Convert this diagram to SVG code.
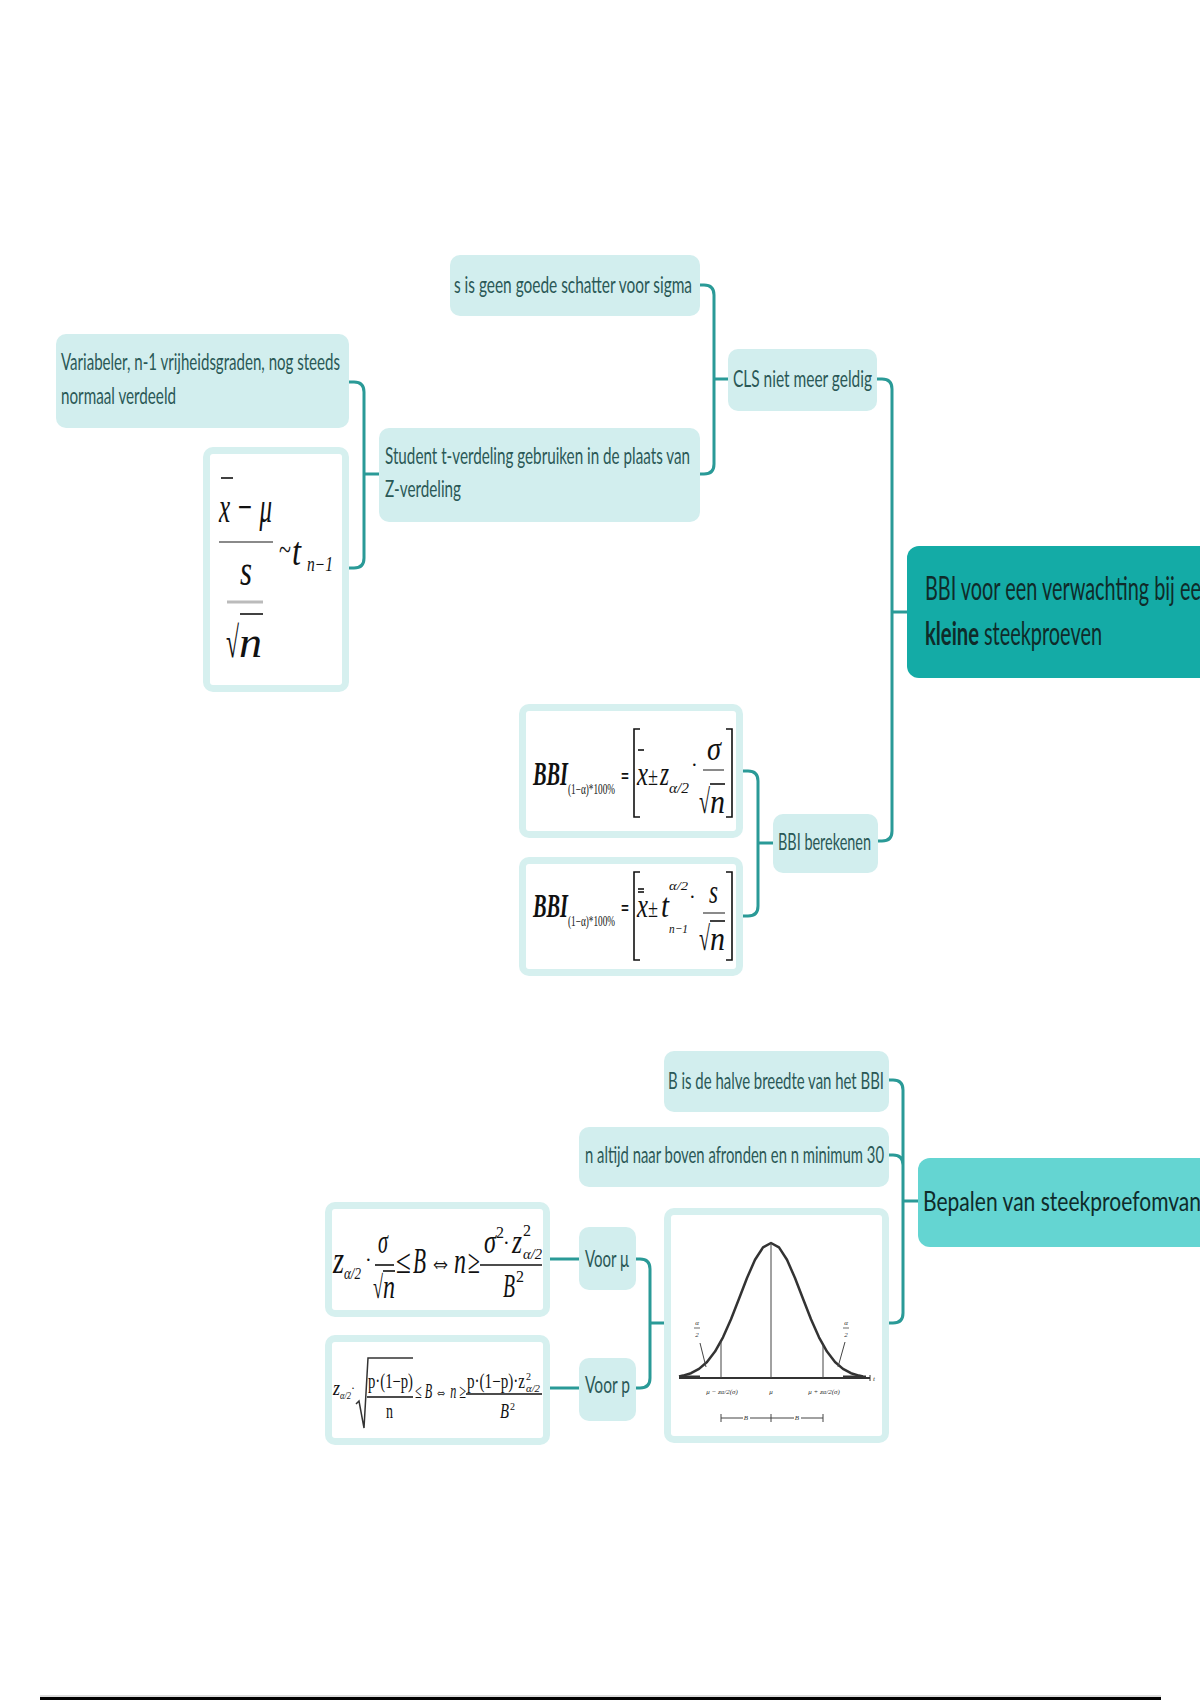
<svg xmlns="http://www.w3.org/2000/svg" width="1200" height="1700" viewBox="0 0 1200 1700">
<defs>
<style>
.n{fill:#d2eeee}
.fo{fill:#d6f0ef}
.fi{fill:#ffffff}
.t{font-family:Lato,"Liberation Sans",sans-serif;font-size:24px;fill:#2a5856}
.h{font-family:Lato,"Liberation Sans",sans-serif;fill:#0f2b2a}
.m{font-family:"Liberation Serif",serif;font-style:italic;fill:#111}
.u{font-family:"Liberation Serif",serif;fill:#111}
.c{fill:none;stroke:#2a9a97;stroke-width:3;stroke-linecap:round;stroke-linejoin:round}
.k{stroke:#111;stroke-width:1.6;fill:none}
.g{stroke:#8a8a8a;stroke-width:2}
.tiny{font-family:"Liberation Serif",serif;font-style:italic;font-size:7px;fill:#333}
</style>
</defs>
<rect width="1200" height="1700" fill="#ffffff"/>

<g id="connectors">
<path class="c" d="M876,379 H882 Q892,379 892,389 V831 Q892,841 882,841 H878 M892,612 H907"/>
<path class="c" d="M700,285 H704 Q714,285 714,295 V464 Q714,474 704,474 H700 M714,379 H728"/>
<path class="c" d="M349,382 H354 Q364,382 364,392 V558 Q364,568 354,568 H349 M364,474 H379"/>
<path class="c" d="M743,771 H748 Q758,771 758,781 V906 Q758,916 748,916 H743 M758,843 H773"/>
<path class="c" d="M889,1080 H893 Q903,1080 903,1090 V1313 Q903,1323 893,1323 H889 M889,1155 H893 Q903,1155 903,1165 M903,1201 H918"/>
<path class="c" d="M636,1259 H640 Q650,1259 650,1269 V1378 Q650,1388 640,1388 H636 M650,1323 H664"/>
<path class="c" d="M579,1259 H550 M579,1388 H550"/>
</g>

<g id="main-bbi">
<rect x="907" y="546" width="320" height="132" rx="12" fill="#14aba6"/>
<text class="h" x="925" y="600" font-size="32" textLength="287" lengthAdjust="spacingAndGlyphs">BBI voor een verwachting bij een</text>
<text class="h" x="925" y="645" font-size="32" font-weight="bold" textLength="54" lengthAdjust="spacingAndGlyphs">kleine</text>
<text class="h" x="984" y="645" font-size="32" textLength="118" lengthAdjust="spacingAndGlyphs">steekproeven</text>
</g>

<g id="cls">
<rect class="n" x="728" y="349" width="149" height="62" rx="10"/>
<text class="t" x="733" y="387" textLength="139" lengthAdjust="spacingAndGlyphs">CLS niet meer geldig</text>
</g>

<g id="s-sigma">
<rect class="n" x="450" y="255" width="250" height="61" rx="10"/>
<text class="t" x="454" y="293" textLength="238" lengthAdjust="spacingAndGlyphs">s is geen goede schatter voor sigma</text>
</g>

<g id="student">
<rect class="n" x="379" y="428" width="321" height="94" rx="10"/>
<text class="t" x="385" y="464" textLength="305" lengthAdjust="spacingAndGlyphs">Student t-verdeling gebruiken in de plaats van</text>
<text class="t" x="385" y="497" textLength="76" lengthAdjust="spacingAndGlyphs">Z-verdeling</text>
</g>

<g id="variabeler">
<rect class="n" x="56" y="334" width="293" height="94" rx="10"/>
<text class="t" x="61" y="370" textLength="279" lengthAdjust="spacingAndGlyphs">Variabeler, n-1 vrijheidsgraden, nog steeds</text>
<text class="t" x="61" y="404" textLength="115" lengthAdjust="spacingAndGlyphs">normaal verdeeld</text>
</g>

<g id="formula-t">
<rect class="fo" x="203" y="447" width="146" height="245" rx="10"/>
<rect class="fi" x="210" y="454" width="132" height="231" rx="3"/>
<line class="k" x1="221" y1="478" x2="233" y2="478"/>
<text class="m" x="219" y="522" font-size="44" textLength="53" lengthAdjust="spacingAndGlyphs">x − μ</text>
<line class="g" x1="219" y1="542" x2="273" y2="542"/>
<text class="m" x="240" y="585" font-size="44" textLength="12" lengthAdjust="spacingAndGlyphs">s</text>
<line x1="227" y1="602" x2="263" y2="602" stroke="#bbbbbb" stroke-width="3"/>
<text class="u" x="226" y="657" font-size="44" textLength="13" lengthAdjust="spacingAndGlyphs">√</text>
<line class="k" x1="240" y1="614" x2="263" y2="614"/>
<text class="m" x="239" y="657" font-size="44" textLength="23" lengthAdjust="spacingAndGlyphs">n</text>
<text class="u" x="279" y="560" font-size="30" textLength="12" lengthAdjust="spacingAndGlyphs">~</text>
<text class="m" x="292" y="565" font-size="40" textLength="9" lengthAdjust="spacingAndGlyphs">t</text>
<text class="m" x="307" y="571" font-size="20" textLength="26" lengthAdjust="spacingAndGlyphs">n−1</text>
</g>

<g id="bbi-berekenen">
<rect class="n" x="773" y="814" width="105" height="59" rx="10"/>
<text class="t" x="778" y="850" textLength="93" lengthAdjust="spacingAndGlyphs">BBI berekenen</text>
</g>

<g id="formula-z">
<rect class="fo" x="519" y="704" width="224" height="134" rx="10"/>
<rect class="fi" x="526" y="711" width="210" height="120" rx="3"/>
<text class="m" x="533" y="785" font-size="34" font-weight="bold" textLength="35" lengthAdjust="spacingAndGlyphs">BBI</text>
<text class="u" x="568" y="794" font-size="14" textLength="47" lengthAdjust="spacingAndGlyphs">(1−α)*100%</text>
<text class="u" x="621" y="784" font-size="24" font-weight="bold" textLength="8" lengthAdjust="spacingAndGlyphs">=</text>
<path class="k" d="M640,729 H634 V817 H640"/>
<line class="k" x1="638" y1="750" x2="644" y2="750"/>
<text class="m" x="637" y="785" font-size="34" textLength="11" lengthAdjust="spacingAndGlyphs">x</text>
<text class="u" x="648" y="785" font-size="26" textLength="10" lengthAdjust="spacingAndGlyphs">±</text>
<text class="m" x="660" y="785" font-size="34" textLength="9" lengthAdjust="spacingAndGlyphs">z</text>
<text class="m" x="669" y="793" font-size="15" textLength="20" lengthAdjust="spacingAndGlyphs">α/2</text>
<text class="u" x="691" y="772" font-size="20">·</text>
<text class="m" x="707" y="760" font-size="34" textLength="14" lengthAdjust="spacingAndGlyphs">σ</text>
<line class="g" x1="703" y1="770" x2="724" y2="770"/>
<text class="u" x="699" y="813" font-size="34" textLength="11" lengthAdjust="spacingAndGlyphs">√</text>
<line class="k" x1="710" y1="784" x2="725" y2="784"/>
<text class="m" x="710" y="813" font-size="34" textLength="15" lengthAdjust="spacingAndGlyphs">n</text>
<path class="k" d="M726,729 H732 V817 H726"/>
</g>

<g id="formula-tn">
<rect class="fo" x="519" y="857" width="224" height="119" rx="10"/>
<rect class="fi" x="526" y="864" width="210" height="105" rx="3"/>
<text class="m" x="533" y="917" font-size="34" font-weight="bold" textLength="35" lengthAdjust="spacingAndGlyphs">BBI</text>
<text class="u" x="568" y="926" font-size="14" textLength="47" lengthAdjust="spacingAndGlyphs">(1−α)*100%</text>
<text class="u" x="621" y="916" font-size="24" font-weight="bold" textLength="8" lengthAdjust="spacingAndGlyphs">=</text>
<path class="k" d="M640,872 H634 V960 H640"/>
<line class="k" x1="638" y1="889" x2="644" y2="889"/>
<line class="k" x1="638" y1="892" x2="644" y2="892"/>
<text class="m" x="637" y="917" font-size="34" textLength="11" lengthAdjust="spacingAndGlyphs">x</text>
<text class="u" x="648" y="917" font-size="26" textLength="10" lengthAdjust="spacingAndGlyphs">±</text>
<text class="m" x="661" y="917" font-size="34" textLength="8" lengthAdjust="spacingAndGlyphs">t</text>
<text class="m" x="669" y="890" font-size="13" textLength="19" lengthAdjust="spacingAndGlyphs">α/2</text>
<text class="m" x="669" y="933" font-size="13" textLength="19" lengthAdjust="spacingAndGlyphs">n−1</text>
<text class="u" x="689" y="904" font-size="20">·</text>
<text class="m" x="709" y="903" font-size="34" textLength="9" lengthAdjust="spacingAndGlyphs">s</text>
<line class="g" x1="703" y1="913" x2="725" y2="913"/>
<text class="u" x="699" y="950" font-size="34" textLength="11" lengthAdjust="spacingAndGlyphs">√</text>
<line class="k" x1="710" y1="921" x2="725" y2="921"/>
<text class="m" x="710" y="950" font-size="34" textLength="15" lengthAdjust="spacingAndGlyphs">n</text>
<path class="k" d="M726,872 H732 V960 H726"/>
</g>

<g id="main-steekproefomvang">
<rect x="918" y="1158" width="310" height="89" rx="12" fill="#64d5d2"/>
<text class="h" x="923" y="1211" font-size="27" textLength="289" lengthAdjust="spacingAndGlyphs">Bepalen van steekproefomvang</text>
</g>

<g id="halve-breedte">
<rect class="n" x="664" y="1051" width="225" height="61" rx="10"/>
<text class="t" x="668" y="1089" textLength="216" lengthAdjust="spacingAndGlyphs">B is de halve breedte van het BBI</text>
</g>

<g id="afronden">
<rect class="n" x="579" y="1127" width="310" height="60" rx="10"/>
<text class="t" x="585" y="1163" textLength="299" lengthAdjust="spacingAndGlyphs">n altijd naar boven afronden en n minimum 30</text>
</g>

<g id="normal-curve">
<rect class="fo" x="664" y="1208" width="225" height="235" rx="10"/>
<rect class="fi" x="671" y="1215" width="211" height="221" rx="3"/>
<line x1="679" y1="1378" x2="870" y2="1378" stroke="#333" stroke-width="2"/>
<line x1="679" y1="1377" x2="700" y2="1377" stroke="#333" stroke-width="3"/>
<line x1="843" y1="1377" x2="866" y2="1377" stroke="#333" stroke-width="3"/>
<line x1="870" y1="1375" x2="870" y2="1381" stroke="#333" stroke-width="1"/>
<text class="tiny" x="873" y="1381">t</text>
<polyline fill="none" stroke="#333" stroke-width="2.5" stroke-linejoin="round" points="679,1376.4 683,1375.6 691,1373.2 699,1368.9 707,1362 715,1351.6 723,1337.3 731,1319.3 739,1298.8 747,1278 755,1259.8 763,1247.4 771,1243 779,1247.4 787,1259.8 795,1278 803,1298.8 811,1319.3 819,1337.3 827,1351.6 835,1362 843,1368.9 851,1373.2 859,1375.6 863,1376.4"/>
<line x1="771" y1="1243" x2="771" y2="1378" stroke="#444" stroke-width="1"/>
<line x1="721" y1="1341" x2="721" y2="1378" stroke="#444" stroke-width="1"/>
<line x1="823" y1="1345" x2="823" y2="1378" stroke="#444" stroke-width="1"/>
<text class="tiny" x="697" y="1325" text-anchor="middle">α</text>
<line x1="694" y1="1328" x2="700" y2="1328" stroke="#444" stroke-width="0.8"/>
<text class="tiny" x="697" y="1337" text-anchor="middle">2</text>
<line x1="700" y1="1343" x2="706" y2="1367" stroke="#444" stroke-width="1"/>
<text class="tiny" x="846" y="1325" text-anchor="middle">α</text>
<line x1="843" y1="1328" x2="849" y2="1328" stroke="#444" stroke-width="0.8"/>
<text class="tiny" x="846" y="1337" text-anchor="middle">2</text>
<line x1="845" y1="1342" x2="838" y2="1367" stroke="#444" stroke-width="1"/>
<text class="tiny" x="722" y="1394" text-anchor="middle" font-size="6">μ − zα/2(σ)</text>
<text class="tiny" x="771" y="1394" text-anchor="middle" font-size="6">μ</text>
<text class="tiny" x="824" y="1394" text-anchor="middle" font-size="6">μ + zα/2(σ)</text>
<line x1="721" y1="1418" x2="823" y2="1418" stroke="#444" stroke-width="1"/>
<line x1="721" y1="1414" x2="721" y2="1422" stroke="#444" stroke-width="1"/>
<line x1="771" y1="1414" x2="771" y2="1422" stroke="#444" stroke-width="1"/>
<line x1="823" y1="1414" x2="823" y2="1422" stroke="#444" stroke-width="1"/>
<rect x="743" y="1414" width="7" height="8" fill="#fff"/>
<rect x="794" y="1414" width="7" height="8" fill="#fff"/>
<text class="tiny" x="746" y="1420" text-anchor="middle">B</text>
<text class="tiny" x="797" y="1420" text-anchor="middle">B</text>
</g>

<g id="voor-mu">
<rect class="n" x="579" y="1227" width="57" height="63" rx="10"/>
<text class="t" x="585" y="1267" textLength="44" lengthAdjust="spacingAndGlyphs">Voor μ</text>
</g>

<g id="voor-p">
<rect class="n" x="579" y="1358" width="57" height="63" rx="10"/>
<text class="t" x="585" y="1393" textLength="45" lengthAdjust="spacingAndGlyphs">Voor p</text>
</g>

<g id="formula-mu">
<rect class="fo" x="325" y="1202" width="225" height="115" rx="10"/>
<rect class="fi" x="332" y="1209" width="211" height="101" rx="3"/>
<text class="m" x="333" y="1273" font-size="38" textLength="11" lengthAdjust="spacingAndGlyphs">z</text>
<text class="m" x="344" y="1279" font-size="17" textLength="17" lengthAdjust="spacingAndGlyphs">α/2</text>
<text class="u" x="365" y="1267" font-size="20">·</text>
<text class="m" x="378" y="1253" font-size="34" textLength="10" lengthAdjust="spacingAndGlyphs">σ</text>
<line class="k" x1="375" y1="1265" x2="394" y2="1265"/>
<text class="u" x="373" y="1298" font-size="32" textLength="10" lengthAdjust="spacingAndGlyphs">√</text>
<line class="k" x1="383" y1="1271" x2="395" y2="1271"/>
<text class="m" x="383" y="1298" font-size="34" textLength="12" lengthAdjust="spacingAndGlyphs">n</text>
<text class="u" x="396" y="1273" font-size="34" textLength="15" lengthAdjust="spacingAndGlyphs">≤</text>
<text class="m" x="413" y="1273" font-size="36" textLength="13" lengthAdjust="spacingAndGlyphs">B</text>
<text class="u" x="429" y="1273" font-size="34" textLength="23" lengthAdjust="spacingAndGlyphs">⇔</text>
<text class="m" x="454" y="1273" font-size="36" textLength="12" lengthAdjust="spacingAndGlyphs">n</text>
<text class="u" x="468" y="1273" font-size="34" textLength="12" lengthAdjust="spacingAndGlyphs">≥</text>
<text class="m" x="484" y="1253" font-size="34" textLength="12" lengthAdjust="spacingAndGlyphs">σ</text>
<text class="u" x="496" y="1238" font-size="16">2</text>
<text class="u" x="503" y="1250" font-size="20">·</text>
<text class="m" x="512" y="1253" font-size="34" textLength="10" lengthAdjust="spacingAndGlyphs">z</text>
<text class="u" x="523" y="1236" font-size="16">2</text>
<text class="m" x="523" y="1259" font-size="15" textLength="19" lengthAdjust="spacingAndGlyphs">α/2</text>
<line class="k" x1="480" y1="1265" x2="542" y2="1265"/>
<text class="m" x="503" y="1297" font-size="34" textLength="12" lengthAdjust="spacingAndGlyphs">B</text>
<text class="u" x="516" y="1282" font-size="16">2</text>
</g>

<g id="formula-p">
<rect class="fo" x="325" y="1335" width="225" height="110" rx="10"/>
<rect class="fi" x="332" y="1342" width="211" height="96" rx="3"/>
<text class="m" x="333" y="1395" font-size="20" textLength="7" lengthAdjust="spacingAndGlyphs">z</text>
<text class="m" x="340" y="1399" font-size="10" textLength="11" lengthAdjust="spacingAndGlyphs">α/2</text>
<text class="u" x="351" y="1392" font-size="12">·</text>
<path d="M356,1404 L359,1401 L364,1428 L368,1358 H413" fill="none" stroke="#333" stroke-width="1.5"/>
<text class="u" x="368" y="1388" font-size="20" textLength="45" lengthAdjust="spacingAndGlyphs">p·(1−p)</text>
<line class="k" x1="367" y1="1397" x2="413" y2="1397" stroke-width="1"/>
<text class="u" x="386" y="1418" font-size="20" textLength="7" lengthAdjust="spacingAndGlyphs">n</text>
<text class="m" x="415" y="1398" font-size="20" textLength="51" lengthAdjust="spacingAndGlyphs">≤ B ⇔ n ≥</text>
<text class="u" x="467" y="1388" font-size="20" textLength="58" lengthAdjust="spacingAndGlyphs">p·(1−p)·z</text>
<text class="u" x="526" y="1380" font-size="10">2</text>
<text class="m" x="526" y="1392" font-size="10" textLength="14" lengthAdjust="spacingAndGlyphs">α/2</text>
<line class="k" x1="466" y1="1394" x2="542" y2="1394" stroke-width="1"/>
<text class="m" x="500" y="1418" font-size="20" textLength="9" lengthAdjust="spacingAndGlyphs">B</text>
<text class="u" x="510" y="1410" font-size="10">2</text>
</g>

<line x1="40" y1="1696" x2="1161" y2="1696" stroke="#bbbbbb" stroke-width="1"/>
<rect x="40" y="1697" width="1121" height="3" fill="#000000"/>
</svg>
